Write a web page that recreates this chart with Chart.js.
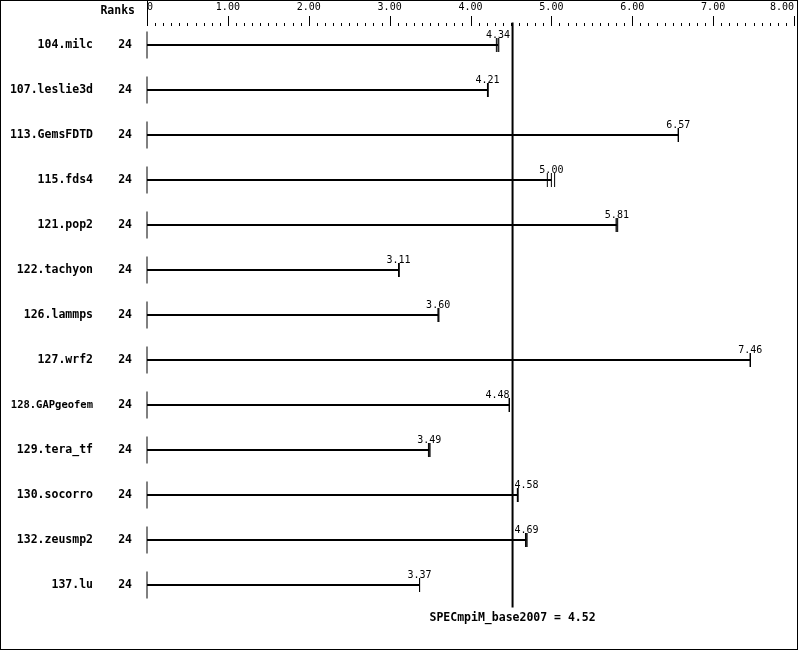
<!DOCTYPE html>
<html>
<head>
<meta charset="utf-8">
<script src="https://cdn.jsdelivr.net/npm/chart.js@4/dist/chart.umd.min.js"></script>
<style>
  body { margin: 0; background: #fff; }
  #wrap { width: 799px; height: 651px; position: relative; }
</style>
</head>
<body>
<div id="wrap"><canvas id="specChart"></canvas></div>
<script>
// Benchmark results
const benchmarks = ['104.milc', '107.leslie3d', '113.GemsFDTD', '115.fds4', '121.pop2', '122.tachyon',
    '126.lammps', '127.wrf2', '128.GAPgeofem', '129.tera_tf', '130.socorro', '132.zeusmp2', '137.lu'];
const ranks = [24, 24, 24, 24, 24, 24, 24, 24, 24, 24, 24, 24, 24];
const medians = [4.34, 4.21, 6.57, 5.00, 5.81, 3.11, 3.60, 7.46, 4.48, 3.49, 4.58, 4.69, 3.37];
// individual runs (tick marks at the end of each bar)
const runs = [
    [4.32, 4.34, 4.35],
    [4.21, 4.21, 4.22],
    [6.57, 6.57, 6.57],
    [4.95, 5.00, 5.04],
    [5.80, 5.81, 5.82],
    [3.11, 3.11, 3.12],
    [3.60, 3.60, 3.61],
    [7.46, 7.46, 7.46],
    [4.48, 4.48, 4.48],
    [3.48, 3.49, 3.50],
    [4.58, 4.58, 4.59],
    [4.68, 4.69, 4.70],
    [3.37, 3.37, 3.37]
];
const xTicks = [0, 1, 2, 3, 4, 5, 6, 7, 8];
const metricName = 'SPECmpiM_base2007';
const metricValue = 4.52;

const monoFont = "'DejaVu Sans Mono', 'Liberation Mono', monospace";

// Build datasets
function buildDatasets() {
    const sets = [];
    // bars as thick horizontal lines
    medians.forEach((v, i) => {
        sets.push({
            data: [{ x: 0, y: i }, { x: v, y: i }],
            showLine: true,
            borderColor: '#000',
            borderWidth: 2,
            pointRadius: 0,
            clip: false
        });
    });
    // zero ticks at left of each bar
    sets.push({
        data: benchmarks.map((b, i) => ({ x: 0, y: i })),
        pointStyle: 'line',
        rotation: 90,
        pointRadius: 13.5,
        pointBorderColor: '#000',
        pointBorderWidth: 1,
        clip: false
    });
    // run markers
    const runPts = [];
    runs.forEach((r, i) => r.forEach(v => runPts.push({ x: v, y: i })));
    sets.push({
        data: runPts,
        pointStyle: 'line',
        rotation: 90,
        pointRadius: 7,
        pointBorderColor: '#000',
        pointBorderWidth: 1,
        clip: false
    });
    // overall metric line
    sets.push({
        data: [{ x: metricValue, y: -0.5 }, { x: metricValue, y: benchmarks.length - 0.5 }],
        showLine: true,
        borderColor: '#000',
        borderWidth: 2,
        pointRadius: 0,
        clip: false
    });
    return sets;
}

// Extra drawing: frame, axis tick marks, value labels, header/footer
const decorPlugin = {
    id: 'decor',
    afterDraw(chart) {
        const ctx = chart.ctx;
        const xs = chart.scales.x;
        const ys = chart.scales.y;
        const area = chart.chartArea;
        ctx.save();
        ctx.strokeStyle = '#000';
        ctx.fillStyle = '#000';

        // frame
        ctx.lineWidth = 1;
        ctx.strokeRect(0.5, 0.5, chart.width - 2, chart.height - 2);

        // axis tick marks (0.1 minor, 1.0 major)
        const base = Math.round(area.top);
        ctx.beginPath();
        for (let k = 0; k <= 80; k++) {
            const px = Math.round(xs.getPixelForValue(k / 10)) + 0.5;
            let top = base;
            if (k === 0) top = 0;
            else if (k % 10 === 0) top = base - 7;
            ctx.moveTo(px, top);
            ctx.lineTo(px, base + 3);
        }
        ctx.stroke();

        // value labels
        const meanPx = xs.getPixelForValue(metricValue);
        ctx.font = '10px ' + monoFont;
        ctx.textBaseline = 'alphabetic';
        medians.forEach((v, i) => {
            const txt = v.toFixed(2);
            const px = xs.getPixelForValue(v);
            const py = ys.getPixelForValue(i) - 7;
            const w = ctx.measureText(txt).width;
            if (Math.abs(px - meanPx) < w / 2 + 2) {
                if (v < metricValue) {
                    ctx.textAlign = 'right';
                    ctx.fillText(txt, meanPx - 3, py);
                } else {
                    ctx.textAlign = 'left';
                    ctx.fillText(txt, meanPx + 2, py);
                }
            } else {
                ctx.textAlign = 'center';
                ctx.fillText(txt, px, py);
            }
        });

        // header and footer
        ctx.font = 'bold 11.5px ' + monoFont;
        ctx.textAlign = 'right';
        ctx.fillText('Ranks', 135, 14);
        ctx.textAlign = 'center';
        ctx.fillText(metricName + ' = ' + metricValue.toFixed(2), meanPx, area.bottom + 13);
        ctx.restore();
    }
};

function initializeChart() {
    const ctx = document.getElementById('specChart').getContext('2d');
    const yRange = { min: -0.5, max: benchmarks.length - 0.5 };
    const rowTicks = scale => { scale.ticks = benchmarks.map((b, i) => ({ value: i })); };
    const noPad = scale => {
        scale.paddingLeft = 0;
        scale.paddingRight = 0;
        scale.paddingTop = 0;
        scale.paddingBottom = 0;
    };

    new Chart(ctx, {
        type: 'scatter',
        data: { datasets: buildDatasets() },
        options: {
            responsive: true,
            maintainAspectRatio: false,
            animation: false,
            events: [],
            layout: {
                autoPadding: false,
                padding: { top: 0, right: 5, bottom: 43.5, left: 0 }
            },
            plugins: {
                legend: { display: false },
                tooltip: { enabled: false }
            },
            scales: {
                x: {
                    type: 'linear',
                    position: 'top',
                    min: xTicks[0],
                    max: xTicks[xTicks.length - 1],
                    afterBuildTicks: scale => { scale.ticks = xTicks.map(v => ({ value: v })); },
                    afterFit: scale => { scale.height = 22.5; noPad(scale); },
                    grid: { display: false, drawTicks: false },
                    border: { display: false },
                    ticks: {
                        align: 'inner',
                        padding: 9,
                        color: '#000',
                        font: { family: monoFont, size: 10 },
                        callback: v => (v === 0 ? '0' : v.toFixed(2))
                    }
                },
                y: {
                    type: 'linear',
                    position: 'left',
                    reverse: true,
                    weight: 2,
                    ...yRange,
                    afterBuildTicks: rowTicks,
                    afterFit: scale => { scale.width = 110; noPad(scale); },
                    grid: { display: false, drawTicks: false },
                    border: { display: false },
                    ticks: {
                        padding: 17,
                        color: '#000',
                        font: c => ({
                            family: monoFont,
                            size: benchmarks[c.index] && benchmarks[c.index].length > 12 ? 10.5 : 11.5,
                            weight: 'bold'
                        }),
                        callback: v => benchmarks[v]
                    }
                },
                yRank: {
                    type: 'linear',
                    position: 'left',
                    reverse: true,
                    weight: 1,
                    ...yRange,
                    afterBuildTicks: rowTicks,
                    afterFit: scale => { scale.width = 37; noPad(scale); },
                    grid: { display: false, drawTicks: false },
                    border: { display: false },
                    ticks: {
                        padding: 15,
                        color: '#000',
                        font: { family: monoFont, size: 11.5, weight: 'bold' },
                        callback: v => String(ranks[v])
                    }
                }
            }
        },
        plugins: [decorPlugin]
    });
}

document.addEventListener('DOMContentLoaded', () => {
    initializeChart();
});
</script>
</body>
</html>
